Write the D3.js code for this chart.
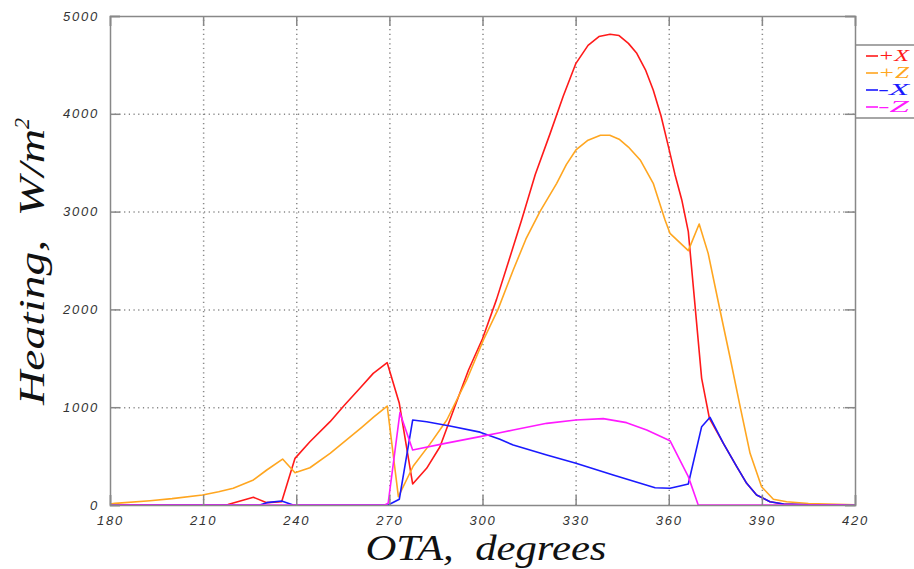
<!DOCTYPE html>
<html lang="en">
<head>
  <meta charset="UTF-8">
  <title>Heating vs OTA</title>
  <script src="https://d3js.org/d3.v7.min.js"></script>
  <style>
    body {
      margin: 0;
      overflow: hidden;
      background: white;
    }
    .tick text {
      font-family: "Liberation Sans", Arial, sans-serif;
      font-style: italic;
      font-size: 13px;
      letter-spacing: 1.8px;
      fill: #333;
    }
  </style>
</head>
<body>
  <script>
    const width = 914;
    const height = 569;
    const margin = { top: 16, right: 59, bottom: 64, left: 110 };

    // +X
    const plusXOta = [180, 215, 218, 226.2, 230.5, 235.3, 239.6, 244.4, 250.9, 255.5, 260.5, 264.8, 269.3,
      273.2, 277.5, 282, 286.3, 291, 295.5, 300, 304.5, 308.5, 312.6, 317, 321.8, 326, 330.1, 334, 337.5,
      341.1, 344, 347, 349.7, 352.5, 355, 357.5, 359.9, 362, 364.2, 366.3, 370.6, 373.1, 377.6, 381.9,
      385.1, 388.3, 392.6, 397, 405, 420];
    const plusXVal = [0, 0, 5, 79, 24, 34, 477, 647, 852, 1020, 1193, 1346, 1455,
      1040, 215, 375, 596, 1000, 1380, 1700, 2100, 2500, 2914, 3380, 3800, 4180, 4516, 4700, 4790,
      4813, 4800, 4720, 4619, 4450, 4243, 3980, 3664, 3380, 3119, 2795, 1295, 886, 631, 392,
      222, 102, 34, 10, 2, 0];

    // +Z
    const plusZOta = [180, 181.6, 192.9, 200, 209.8, 215, 219.7, 226.2, 230.5, 235.6, 239.6, 244.4, 250.9,
      256, 261.1, 265, 269.3, 272.9, 277.7, 283, 288.5, 294.9, 300.3, 305, 309.9, 314, 318.5, 323.9, 327,
      330.1, 334, 338, 341, 344, 347, 350.8, 355, 358.8, 360.4, 366.3, 369.8, 372.7, 376.5, 379.7, 383,
      386.2, 389.9, 393.7, 398, 405, 420];
    const plusZVal = [10, 17, 44, 65, 102, 135, 171, 256, 358, 470, 330, 381, 528,
      660, 794, 900, 1012, 85, 399, 620, 869, 1278, 1687, 2000, 2403, 2720, 2999, 3289, 3480,
      3630, 3730, 3780, 3780, 3740, 3660, 3528, 3289, 2914, 2778, 2601, 2873, 2573, 1994, 1516, 1005,
      528, 187, 58, 34, 15, 2];

    // -X
    const minusXOta = [180, 228.3, 230.5, 235.3, 239, 269.6, 273.2, 277.5, 282, 289.5, 299.2, 305.6, 309.9,
      320.7, 330.1, 342.1, 355.6, 360.4, 363.6, 366.3, 370.6, 373.3, 377.6, 381.9, 385.1, 388.3, 392.6,
      397, 405, 420];
    const minusXVal = [0, 0, 24, 41, 0, 0, 58, 869, 852, 808, 745, 672, 613,
      511, 426, 307, 177, 171, 194, 215, 801, 897, 631, 392, 222, 102, 34,
      10, 2, 0];

    // -Z
    const minusZOta = [180, 268.5, 269.6, 273.4, 277.5, 288, 299.2, 305.6, 309.9, 320.7, 330.1, 338.9, 346.4,
      352.9, 360.4, 366.3, 369.5, 420];
    const minusZVal = [0, 0, 17, 944, 562, 630, 699, 739, 767, 835, 869, 883, 842,
      767, 658, 290, 0, 0];

    const xTicks = [180, 210, 240, 270, 300, 330, 360, 390, 420];
    const yTicks = [0, 1000, 2000, 3000, 4000, 5000];

    const seriesNames = ["+X", "+Z", "-X", "-Z"];
    const seriesColors = ["#ff1a1a", "#ffa620", "#1a1aff", "#ff1aff"];
    const seriesData = [
      [plusXOta, plusXVal],
      [plusZOta, plusZVal],
      [minusXOta, minusXVal],
      [minusZOta, minusZVal]
    ];

    const innerW = width - margin.left - margin.right;
    const innerH = height - margin.top - margin.bottom;

    const svg = d3.select("body")
      .append("svg")
      .attr("width", width)
      .attr("height", height)
      .style("background", "white");

    const x = d3.scaleLinear().domain([180, 420]).range([0, innerW]);
    const y = d3.scaleLinear().domain([0, 5000]).range([innerH, 0]);

    const g = svg.append("g")
      .attr("transform", `translate(${margin.left},${margin.top})`);

    // dotted grid
    g.append("g")
      .attr("transform", `translate(0,${innerH})`)
      .call(d3.axisBottom(x).tickValues(xTicks.slice(1, -1)).tickSize(-innerH).tickFormat(""))
      .call(s => s.select(".domain").remove())
      .selectAll("line")
      .attr("stroke", "#bbb")
      .attr("stroke-dasharray", "1.2,3.5");

    g.append("g")
      .call(d3.axisLeft(y).tickValues(yTicks.slice(1, -1)).tickSize(-innerW).tickFormat(""))
      .call(s => s.select(".domain").remove())
      .selectAll("line")
      .attr("stroke", "#bbb")
      .attr("stroke-dasharray", "1.2,3.5");

    // lines
    const line = d3.line()
      .x(d => x(d[0]))
      .y(d => y(d[1]));

    seriesData.forEach((s, i) => {
      const pts = s[0].map((a, j) => [a, s[1][j]]);
      g.append("path")
        .datum(pts)
        .attr("fill", "none")
        .attr("stroke", seriesColors[i])
        .attr("stroke-width", 1.6)
        .attr("stroke-linejoin", "round")
        .attr("d", line);
    });

    // axes with inward ticks
    const axisColor = "#888";

    g.append("g")
      .attr("transform", `translate(0,${innerH})`)
      .call(d3.axisBottom(x).tickValues(xTicks).tickSize(-10).tickPadding(11).tickFormat(d3.format("d")));
    g.append("g")
      .call(d3.axisTop(x).tickValues(xTicks).tickSize(-10).tickFormat(""));
    g.append("g")
      .call(d3.axisLeft(y).tickValues(yTicks).tickSize(-10).tickPadding(11).tickFormat(d3.format("d")));
    g.append("g")
      .attr("transform", `translate(${innerW},0)`)
      .call(d3.axisRight(y).tickValues(yTicks).tickSize(-10).tickFormat(""));

    g.selectAll(".domain, .tick line")
      .attr("stroke", axisColor)
      .attr("stroke-width", 1.5);

    // axis titles
    const titleFont = "'Liberation Serif', 'Times New Roman', serif";

    svg.append("text")
      .attr("x", 486)
      .attr("y", 560)
      .attr("text-anchor", "middle")
      .attr("textLength", 241)
      .attr("lengthAdjust", "spacingAndGlyphs")
      .style("font-family", titleFont)
      .style("font-style", "italic")
      .style("font-size", "35px")
      .style("fill", "#111")
      .text("OTA,\u00a0\u00a0degrees");

    const yTitle = svg.append("text")
      .attr("transform", "translate(44,405) rotate(-90)")
      .attr("text-anchor", "start")
      .style("font-family", titleFont)
      .style("font-style", "italic")
      .style("font-size", "35px")
      .style("fill", "#111");
    yTitle.append("tspan")
      .attr("textLength", 276)
      .attr("lengthAdjust", "spacingAndGlyphs")
      .text("Heating,\u00a0\u00a0W/m");
    yTitle.append("tspan")
      .attr("dy", -15)
      .style("font-size", "22px")
      .text("2");

    // legend
    const legend = svg.append("g");
    legend.append("line")
      .attr("x1", 855).attr("x2", 914)
      .attr("y1", 45).attr("y2", 45)
      .attr("stroke", axisColor).attr("stroke-width", 1.5);
    legend.append("line")
      .attr("x1", 855).attr("x2", 914)
      .attr("y1", 118).attr("y2", 118)
      .attr("stroke", axisColor).attr("stroke-width", 1.5);

    seriesNames.forEach((name, i) => {
      const ly = 56 + i * 17;
      legend.append("line")
        .attr("x1", 866).attr("x2", 878)
        .attr("y1", ly).attr("y2", ly)
        .attr("stroke", seriesColors[i])
        .attr("stroke-width", 1.6);
      legend.append("text")
        .attr("x", 878)
        .attr("y", ly + 5)
        .attr("textLength", 31)
        .attr("lengthAdjust", "spacingAndGlyphs")
        .style("font-family", titleFont)
        .style("font-style", "italic")
        .style("font-size", "16px")
        .style("fill", seriesColors[i])
        .text(name);
    });
  </script>
</body>
</html>
